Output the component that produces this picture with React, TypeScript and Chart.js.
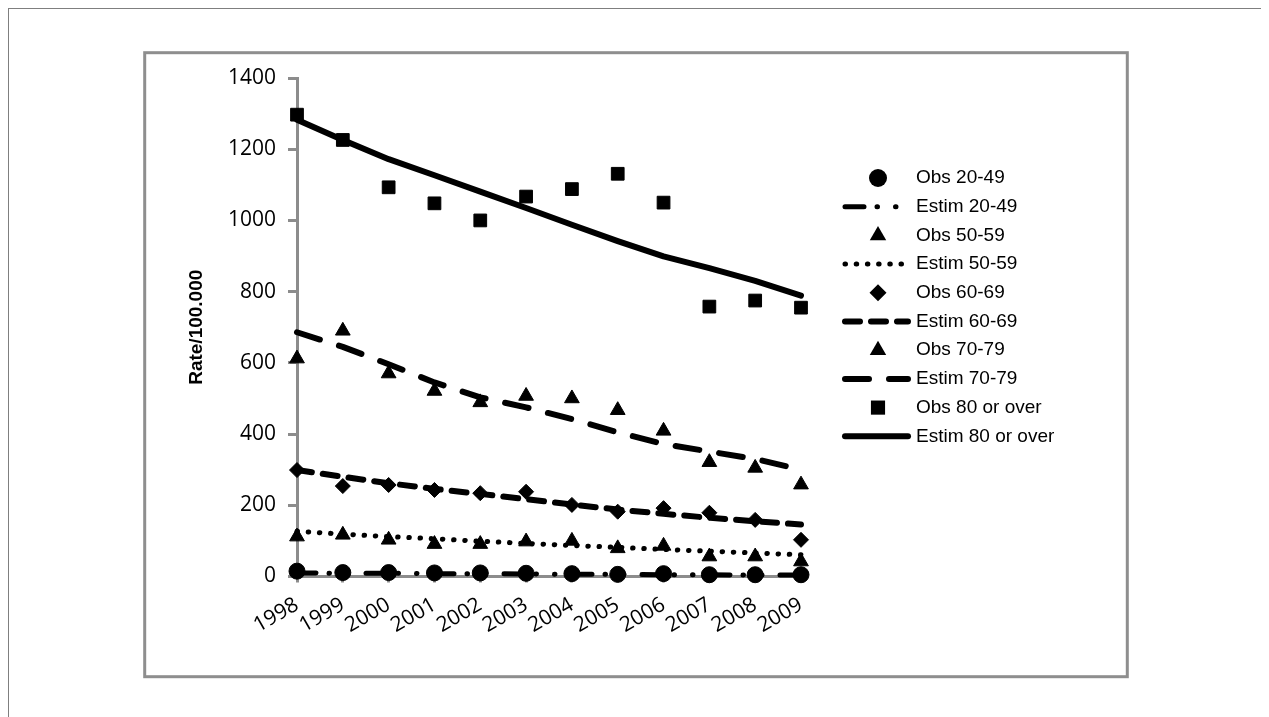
import React, { useEffect, useRef } from "react";
import { Chart, registerables } from "chart.js";

Chart.register(...registerables);

const years = ["1998", "1999", "2000", "2001", "2002", "2003", "2004", "2005", "2006", "2007", "2008", "2009"];

const obs2049 = [15, 11, 11, 10, 10, 9, 8, 6, 8, 5, 5, 5];
const estim2049 = [10, 9, 9, 8, 8, 7, 6, 6, 5, 5, 4, 4];
const obs5059 = [112, 117, 103, 91, 91, 98, 100, 79, 86, 56, 56, 42];
const estim5059 = [127, 119, 112, 106, 99, 93, 87, 82, 76, 71, 66, 61];
const obs6069 = [299, 254, 257, 243, 234, 238, 201, 182, 192, 179, 159, 103];
const estim6069 = [299, 280, 262, 246, 232, 217, 202, 188, 176, 165, 155, 146];
const obs7079 = [612, 690, 570, 521, 489, 507, 500, 467, 409, 321, 305, 258];
const estim7079 = [686, 645, 596, 545, 503, 475, 442, 405, 372, 351, 330, 300];
const obs80 = [1297, 1226, 1093, 1048, 1000, 1067, 1088, 1131, 1050, 758, 775, 755];
const estim80 = [1283, 1226, 1172, 1127, 1081, 1035, 988, 942, 899, 866, 830, 789];

const seriesLabels = [
  "Obs 20-49", "Estim 20-49", "Obs 50-59", "Estim 50-59", "Obs 60-69",
  "Estim 60-69", "Obs 70-79", "Estim 70-79", "Obs 80 or over", "Estim 80 or over",
];

const yMin = 0;
const yMax = 1400;
const yStep = 200;
const yTitle = "Rate/100.000";

const BLACK = "#000000";
const GRAY = "#8c8c8c";

function obsDataset(label: string, data: number[], style: string, radius: number) {
  return {
    label,
    data,
    showLine: false,
    pointStyle: style,
    pointRadius: radius,
    pointHoverRadius: radius,
    pointBackgroundColor: BLACK,
    pointBorderColor: BLACK,
    pointBorderWidth: 1,
    backgroundColor: BLACK,
    borderColor: BLACK,
    clip: false,
    legendRadius: radius,
  };
}

function estimDataset(label: string, data: number[], dash: number[], width: number) {
  return {
    label,
    data,
    showLine: true,
    pointRadius: 0,
    pointHoverRadius: 0,
    borderColor: BLACK,
    backgroundColor: BLACK,
    borderWidth: width,
    borderDash: dash,
    borderCapStyle: "round",
    borderJoinStyle: "round",
    tension: 0,
    fill: false,
    clip: false,
  };
}

function drawMarker(ctx: CanvasRenderingContext2D, style: string, r: number, x: number, y: number) {
  ctx.beginPath();
  if (style === "circle") {
    ctx.arc(x, y, r, 0, Math.PI * 2);
  } else if (style === "triangle") {
    for (let k = 0; k < 3; k++) {
      const a = (k * 2 * Math.PI) / 3;
      const px = x + Math.sin(a) * r;
      const py = y - Math.cos(a) * r;
      if (k === 0) ctx.moveTo(px, py);
      else ctx.lineTo(px, py);
    }
    ctx.closePath();
  } else if (style === "rectRot") {
    ctx.moveTo(x, y - r);
    ctx.lineTo(x + r, y);
    ctx.lineTo(x, y + r);
    ctx.lineTo(x - r, y);
    ctx.closePath();
  } else {
    const s = r * Math.SQRT1_2;
    ctx.rect(x - s, y - s, 2 * s, 2 * s);
  }
  ctx.fill();
}

const framePlugin = {
  id: "frame",
  beforeDraw(chart: any) {
    const ctx = chart.ctx as CanvasRenderingContext2D;
    ctx.save();
    ctx.fillStyle = "#ffffff";
    ctx.fillRect(0, 0, chart.width, chart.height);
    ctx.strokeStyle = "#8e8e8e";
    ctx.lineWidth = 3;
    ctx.strokeRect(135.7, 43.7, 982.6, 624);
    ctx.restore();
  },
};

const legendPlugin = {
  id: "customLegend",
  afterDraw(chart: any) {
    const ctx = chart.ctx as CanvasRenderingContext2D;
    const x0 = 836;
    const x1 = 899;
    const mx = 869;
    const tx = 907;
    const y0 = 169;
    const dy = 28.7;
    ctx.save();
    ctx.font = "19px 'Liberation Sans', Arial, sans-serif";
    ctx.textBaseline = "middle";
    ctx.textAlign = "left";
    chart.data.datasets.forEach((ds: any, i: number) => {
      const y = y0 + i * dy;
      ctx.fillStyle = BLACK;
      ctx.strokeStyle = BLACK;
      if (ds.showLine === false) {
        drawMarker(ctx, ds.pointStyle, ds.legendRadius + 1, mx, y);
      } else {
        ctx.save();
        ctx.setLineDash(ds.borderDash || []);
        ctx.lineWidth = ds.borderWidth;
        ctx.lineCap = "round";
        ctx.beginPath();
        ctx.moveTo(x0, y);
        ctx.lineTo(x1, y);
        ctx.stroke();
        ctx.restore();
      }
      ctx.fillStyle = BLACK;
      ctx.fillText(ds.label, tx, y);
    });
    ctx.restore();
  },
};

export default function App() {
  const canvasRef = useRef<HTMLCanvasElement | null>(null);

  useEffect(() => {
    document.documentElement.style.overflow = "hidden";
    document.body.style.overflow = "hidden";
    const canvas = canvasRef.current;
    if (!canvas) return;

    const datasets: any[] = [
      obsDataset(seriesLabels[0], obs2049, "circle", 8),
      estimDataset(seriesLabels[1], estim2049, [19, 13, 0.5, 18, 0.5, 18], 5),
      obsDataset(seriesLabels[2], obs5059, "triangle", 8.5),
      estimDataset(seriesLabels[3], estim5059, [0.5, 10.7], 5),
      obsDataset(seriesLabels[4], obs6069, "rectRot", 7.5),
      estimDataset(seriesLabels[5], estim6069, [15, 11], 6),
      obsDataset(seriesLabels[6], obs7079, "triangle", 8.5),
      estimDataset(seriesLabels[7], estim7079, [24, 20], 6),
      obsDataset(seriesLabels[8], obs80, "rect", 9),
      estimDataset(seriesLabels[9], estim80, [], 6),
    ];

    const tickFont = { family: "'Open Sans', sans-serif", size: 21 };

    const chart = new Chart(canvas, {
      type: "line",
      data: { labels: years, datasets },
      options: {
        responsive: false,
        animation: false,
        events: [],
        layout: { padding: { left: 176, right: 462, top: 69, bottom: 62.5 } },
        plugins: {
          legend: { display: false },
          tooltip: { enabled: false },
          title: { display: false },
        },
        scales: {
          x: {
            type: "category",
            offset: false,
            grid: {
              display: true,
              drawOnChartArea: false,
              drawTicks: true,
              tickLength: 6,
              color: GRAY,
              lineWidth: 3,
            },
            border: { display: true, color: GRAY, width: 3 },
            ticks: {
              autoSkip: false,
              minRotation: 30,
              maxRotation: 30,
              padding: 10,
              color: BLACK,
              font: tickFont,
            },
            afterFit: (scale: any) => {
              scale.height = 90;
            },
          },
          y: {
            type: "linear",
            min: yMin,
            max: yMax,
            grid: {
              display: true,
              drawOnChartArea: false,
              drawTicks: true,
              tickLength: 9,
              color: GRAY,
              lineWidth: 3,
            },
            border: { display: true, color: GRAY, width: 3 },
            ticks: {
              stepSize: yStep,
              padding: 12,
              color: BLACK,
              font: tickFont,
              callback: (value: any) => String(value),
            },
            title: {
              display: true,
              text: yTitle,
              color: BLACK,
              padding: 0,
              font: { family: "'Liberation Sans', Arial, sans-serif", size: 19, weight: "bold" },
            },
            afterFit: (scale: any) => {
              scale.width = 112;
            },
          },
        },
      } as any,
      plugins: [framePlugin, legendPlugin],
    });

    return () => {
      chart.destroy();
    };
  }, []);

  return (
    <div
      style={{
        border: "1px solid #7f7f7f",
        width: 1254,
        height: 740,
        background: "#ffffff",
      }}
    >
      <canvas ref={canvasRef} width={1254} height={720} style={{ display: "block" }} />
    </div>
  );
}
